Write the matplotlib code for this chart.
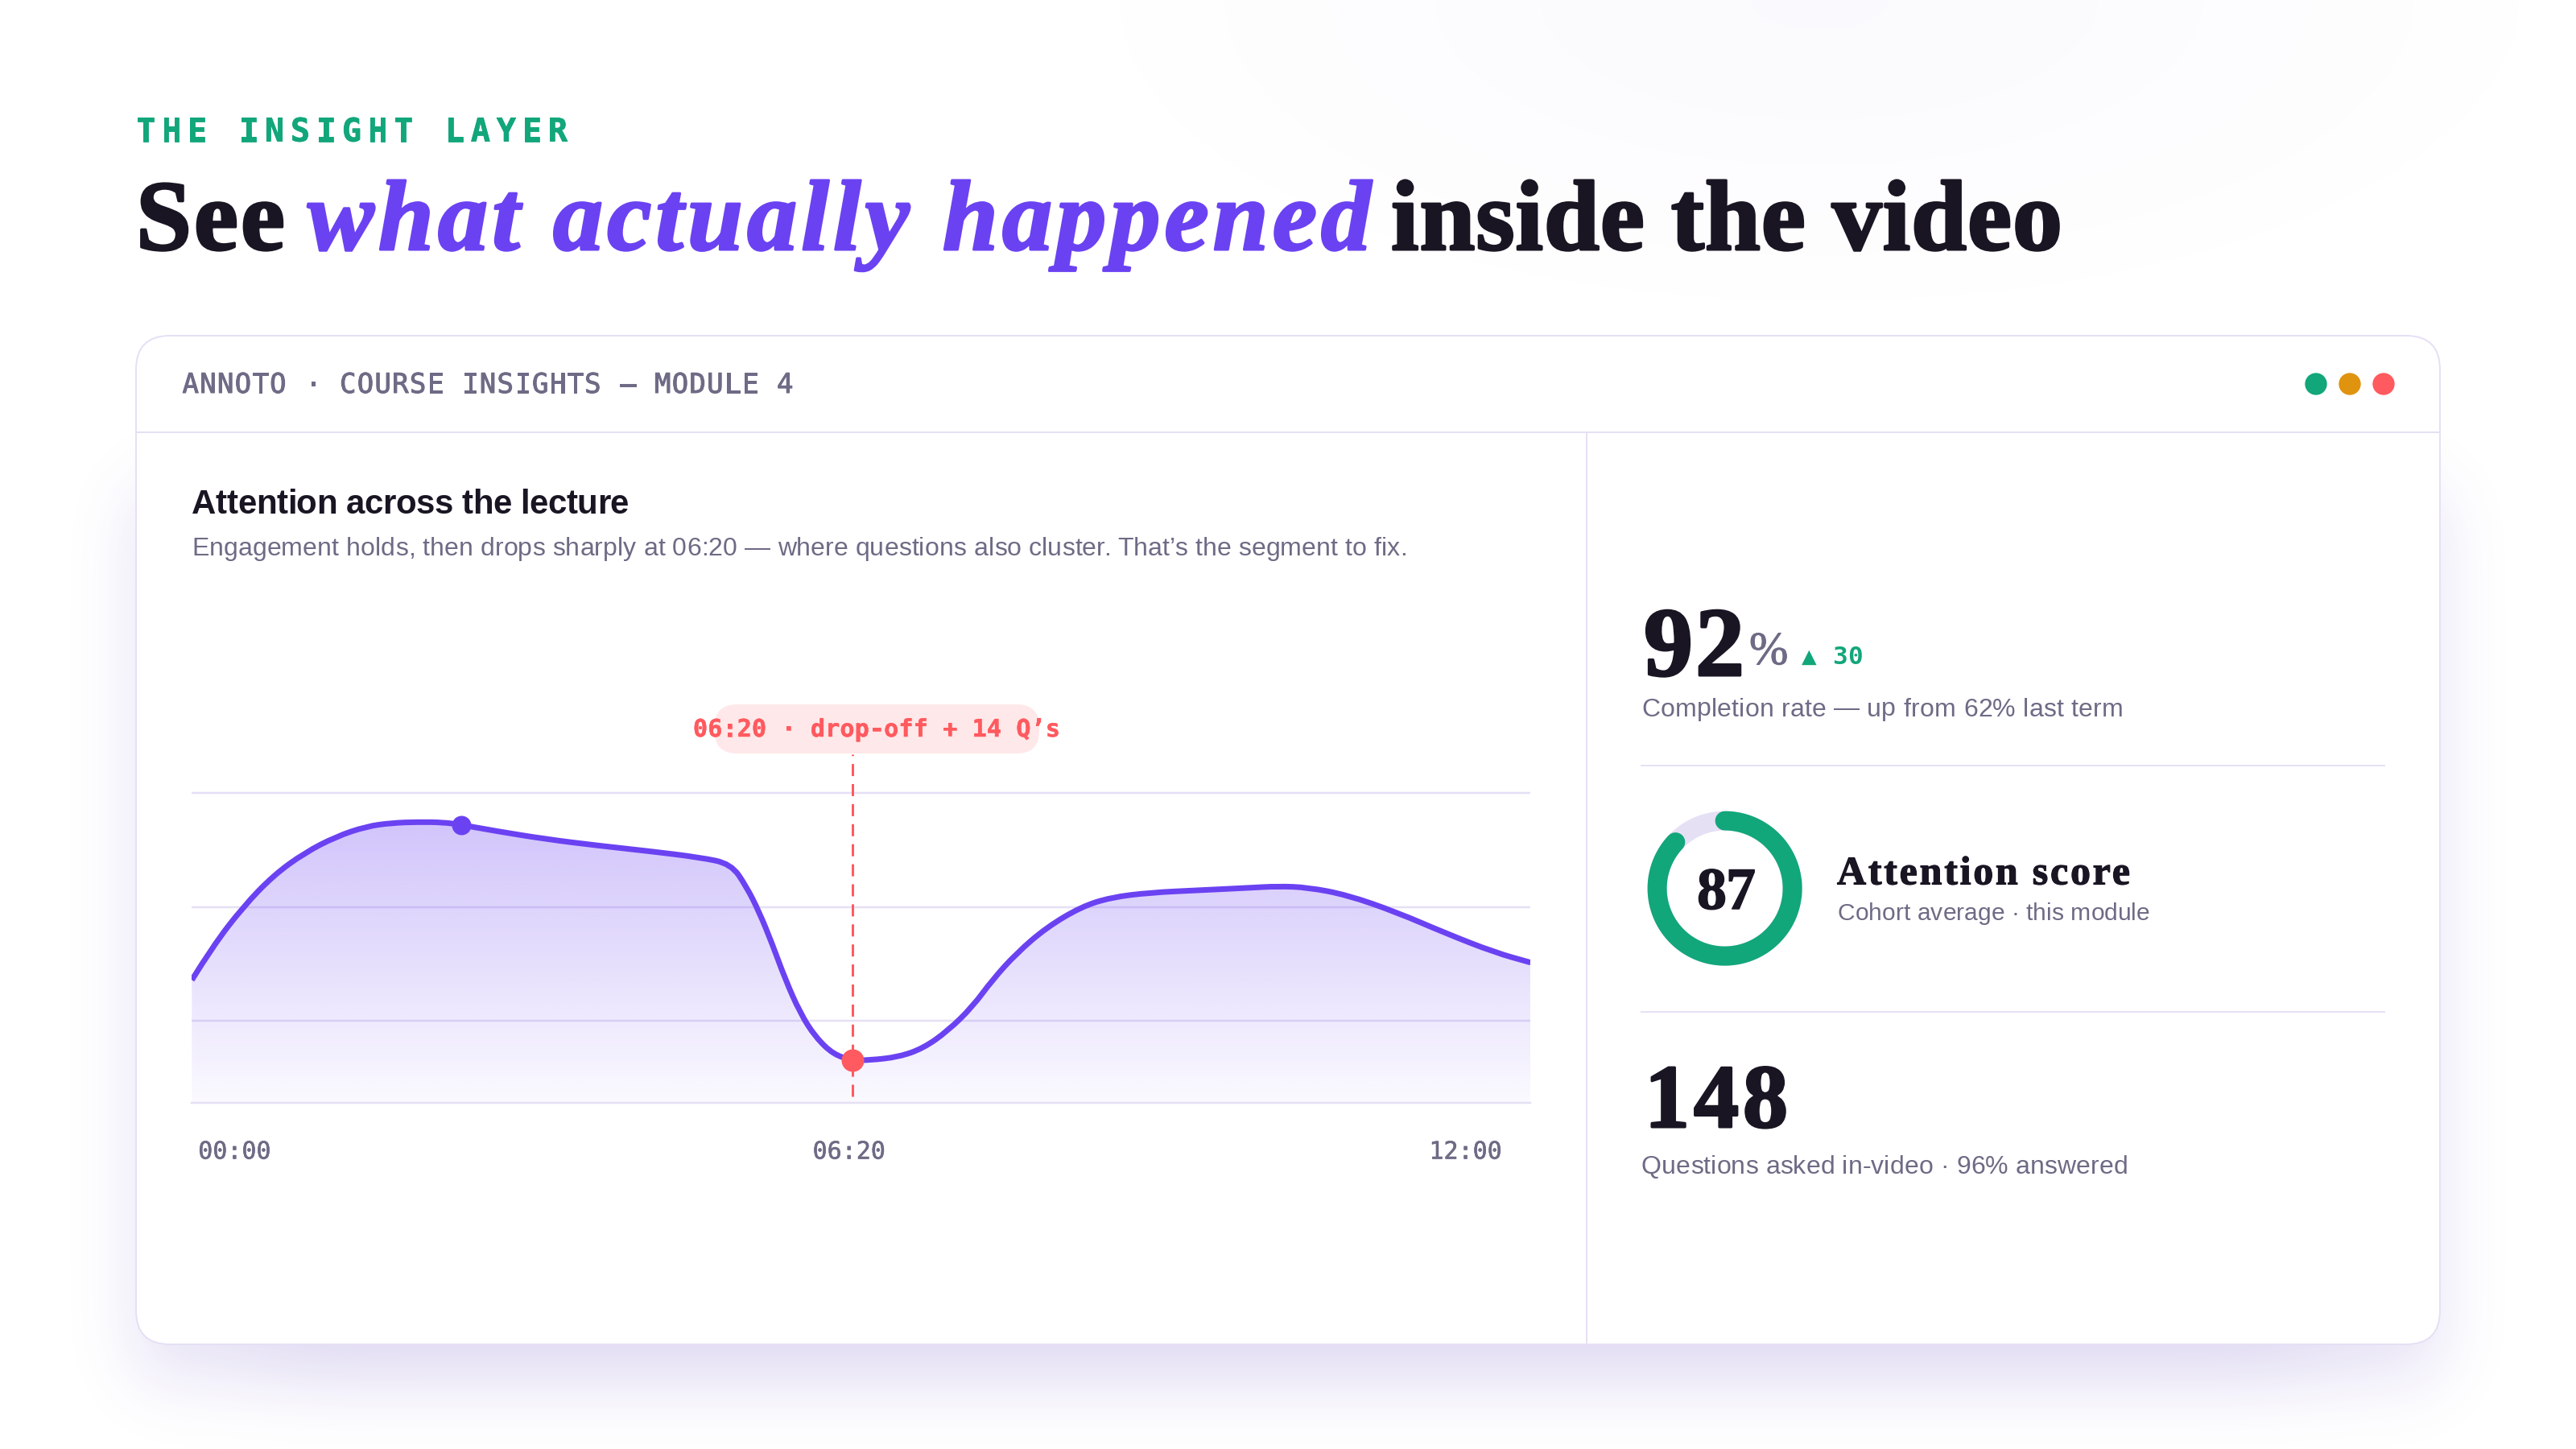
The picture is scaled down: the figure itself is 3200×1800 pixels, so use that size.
import math

import numpy as np
import matplotlib
matplotlib.use("Agg")
import matplotlib.pyplot as plt
from matplotlib.patches import Circle, FancyBboxPatch, PathPatch
from matplotlib.path import Path
from matplotlib.patheffects import withStroke
from matplotlib.text import Text

# ---------------- data ----------------
# position along the lecture (% of plot width) and attention level
progress = [0, 1.55, 3.83, 6.12, 8.44, 10.75, 13.03, 14.96, 16.88, 18.8, 20.13, 22.62,
            26.44, 30.29, 34.14, 37.99, 40.27, 41.41, 42.37, 43.34, 44.3, 45.44, 46.58,
            47.94, 49.35, 50.59, 52.78, 54.64, 56.48, 58.31, 59.79, 61.62, 63.84, 66.43,
            68.65, 71.58, 75.27, 78.93, 81.16, 83.36, 86.31, 90.0, 93.67, 97.33, 100]
attention = [58.97, 66.3, 75.0, 81.96, 86.85, 90.35, 92.62, 93.38, 93.58, 93.5, 92.97, 91.64,
             89.83, 88.43, 87.2, 85.81, 84.41, 79.51, 73.92, 66.98, 59.32, 51.72, 46.48,
             42.63, 41.41, 41.41, 42.11, 44.03, 47.87, 53.12, 58.97, 64.9, 70.48, 75.0,
             77.07, 78.12, 78.64, 79.16, 79.51, 79.25, 77.59, 73.81, 69.2, 65.0, 62.8]
peak_point = (20.13, 92.97)
drop_point = (49.35, 41.41)
grid_levels = [50, 75, 100]
time_positions = [3.2, 49.1, 95.15]
time_labels = ["00:00", "06:20", "12:00"]
attention_score = 87

PURPLE = "#6B42F2"
GREEN = "#12A67B"
ORANGE = "#E0930E"
RED = "#FF5A5F"
INK = "#1A1523"
MUTED = "#6F6A85"
RULE = "#E6E0F5"
SERIF = "Liberation Serif"
SANS = "Liberation Sans"
MONO = "DejaVu Sans Mono"


def px(size):
    # figure is 100 dpi, sizes below are in output pixels
    return size * 0.72


class SpacedText(Text):
    """One text drawn with letter spacing so it runs from x to x_end."""

    def __init__(self, x, y, s, x_end, **kw):
        super().__init__(x, y, s, parse_math=False, **kw)
        self.x_end = x_end

    def draw(self, renderer):
        s = self.get_text()
        x0 = self.get_position()[0]
        fp = self.get_fontproperties()
        width = lambda t: renderer.get_text_width_height_descent(t, fp, False)[0] if t else 0
        track = (self.x_end - x0 - width(s)) / max(len(s) - 1, 1)
        for i, ch in enumerate(s):
            self.set_text(ch)
            self.set_x(x0 + width(s[:i + 1]) - width(ch) + i * track)
            super().draw(renderer)
        self.set_text(s)
        self.set_x(x0)


fig = plt.figure(figsize=(32, 18), dpi=100, facecolor="white")
page = fig.add_axes([0, 0, 1, 1])
page.set_xlim(0, 3200)
page.set_ylim(1800, 0)
page.axis("off")


def label(x, y, s, x_end, size, color=INK, family=SANS, weight="normal", style="normal", heavier=0):
    t = SpacedText(x, y, s, x_end, fontsize=px(size), color=color, family=family,
                   weight=weight, style=style, va="baseline", ha="left", zorder=6)
    if heavier:
        t.set_path_effects([withStroke(linewidth=px(heavier), foreground=color)])
    page.add_artist(t)


# ---------------- page background and card shadow ----------------
xs = np.arange(3200) + 0.5
ys = np.arange(1800) + 0.5


def soft_band(v, lo, hi, sigma):
    erf = np.vectorize(math.erf)
    return 0.5 * (erf((v - lo) / (sigma * 2 ** 0.5)) - erf((v - hi) / (sigma * 2 ** 0.5)))


shade = 0.15 * np.outer(soft_band(ys, 610, 1710, 45), soft_band(xs, 169, 3031, 42))
shade += 0.05 * np.outer(soft_band(ys, 900, 1722, 48), soft_band(xs, 330, 2870, 60))
gx, gy = np.meshgrid(xs, ys)
shade += 0.03 * np.clip(1 - np.hypot((gx - 2260) / 1000, gy / 430), 0, 1)
bg = np.zeros((1800, 3200, 4))
bg[..., :3] = (90 / 255, 60 / 255, 190 / 255)
bg[..., 3] = shade
page.imshow(bg, extent=(0, 3200, 1800, 0), aspect="auto", zorder=0, interpolation="nearest")
page.set_xlim(0, 3200)
page.set_ylim(1800, 0)

# ---------------- card frame ----------------
page.add_patch(FancyBboxPatch((169, 417), 2862, 1253, boxstyle="round,pad=0,rounding_size=42",
                              facecolor="white", edgecolor=RULE, linewidth=px(2), zorder=1))
page.plot([170, 3030], [537, 537], color=RULE, lw=px(2), zorder=2)
page.plot([1971, 1971], [537, 1669], color=RULE, lw=px(2), zorder=2)
page.plot([2039, 2962], [951, 951], color=RULE, lw=px(2), zorder=2)
page.plot([2039, 2962], [1257, 1257], color=RULE, lw=px(2), zorder=2)
for cx, col in zip([2877, 2919, 2961], [GREEN, ORANGE, RED]):
    page.add_patch(Circle((cx, 477), 13, color=col, zorder=2))

# ---------------- headings ----------------
label(169, 175.5, "THE INSIGHT LAYER", 705, 40, GREEN, MONO, "bold", heavier=0.8)
label(169, 310, "See", 354, 124, INK, SERIF, "bold", heavier=3)
label(382, 310, "what actually happened", 1703, 124, PURPLE, SERIF, "bold", "italic", heavier=3)
label(1728, 310, "inside the video", 2562, 124, INK, SERIF, "bold", heavier=3)
label(226.5, 488, "ANNOTO · COURSE INSIGHTS — MODULE 4", 985.5, 34, MUTED, MONO, heavier=1)
label(238, 638.5, "Attention across the lecture", 781, 42, INK, SANS, "bold")
label(238, 690, "Engagement holds, then drops sharply at 06:20 — where questions also cluster. "
      "That’s the segment to fix.", 1748, 32, MUTED)

# ---------------- attention chart ----------------
scale = 25 / 141.8  # attention units per pixel, from the grid spacing
chart_top, chart_bottom = 880, 1369.5
chart = fig.add_axes([238.3 / 3200, 1 - chart_bottom / 1800, 1663.1 / 3200,
                      (chart_bottom - chart_top) / 1800])
chart.patch.set_visible(False)
y_low = 100 - (chart_bottom - 984.7) * scale
y_high = 100 + (984.7 - chart_top) * scale

# quadratic segments between the read points keep the curve smooth
points = list(zip(progress, attention))
curve_verts = [points[0]]
curve_codes = [Path.MOVETO]
for p, q in zip(points[1:-1], points[2:]):
    curve_verts += [p, ((p[0] + q[0]) / 2, (p[1] + q[1]) / 2)]
    curve_codes += [Path.CURVE3, Path.CURVE3]
curve_verts.append(points[-1])
curve_codes.append(Path.LINETO)
curve = Path(curve_verts, curve_codes)
area = Path(curve_verts + [(100, y_low), (0, y_low), (0, y_low)],
            curve_codes + [Path.LINETO, Path.LINETO, Path.CLOSEPOLY])

fill_rows = np.zeros((256, 2, 4))
fill_rows[..., :3] = matplotlib.colors.to_rgb(PURPLE)
fill_rows[..., 3] = np.linspace(0.31, 0.03, 256)[:, None]
fill = chart.imshow(fill_rows, extent=(0, 100, y_low, max(attention)), aspect="auto", zorder=2)
fill.set_clip_path(area, transform=chart.transData)

chart.add_patch(PathPatch(curve, fill=False, edgecolor=PURPLE, lw=px(7), capstyle="butt",
                          joinstyle="round", zorder=3))
chart.plot([drop_point[0]] * 2, [y_low + 1.3, y_high - 10], color=RED, lw=px(3),
           linestyle=(0, (5, 3.3)), zorder=4)
chart.plot(*peak_point, "o", color=PURPLE, markersize=px(24), markeredgewidth=0, zorder=5)
chart.plot(*drop_point, "o", color=RED, markersize=px(28), markeredgewidth=0, zorder=5)

chart.set_xlim(0, 100)
chart.set_ylim(y_low, y_high)
chart.set_yticks(grid_levels)
chart.yaxis.grid(True, color=RULE, lw=px(2.5))
chart.set_axisbelow(True)
chart.tick_params(axis="y", length=0, labelleft=False)
chart.set_xticks(time_positions)
chart.set_xticklabels(time_labels, family=MONO, fontsize=px(30), color=MUTED,
                      path_effects=[withStroke(linewidth=px(0.6), foreground=MUTED)])
chart.tick_params(axis="x", length=0, pad=px(47))
for side in ["top", "left", "right"]:
    chart.spines[side].set_visible(False)
chart.spines["bottom"].set_color(RULE)
chart.spines["bottom"].set_linewidth(px(2.5))

page.add_patch(FancyBboxPatch((887.5, 875), 403.5, 61, boxstyle="round,pad=0,rounding_size=28",
                              facecolor="#FFE8E9", edgecolor="none", zorder=3))
label(861, 915, "06:20 · drop-off + 14 Q’s", 1317, 30, RED, MONO, "bold", heavier=0.5)

# ---------------- right column ----------------
label(2042, 839, "92", 2167, 122, INK, SERIF, "bold", heavier=3)
label(2173, 825, "%", 2213, 58, MUTED, SERIF, heavier=1)
label(2238, 825, "▲ 30", 2314, 31, GREEN, MONO, "bold")
label(2039, 889.5, "Completion rate — up from 62% last term", 2637.5, 32, MUTED)

ring_x, ring_y, ring_r = 2142.6, 1103.6, 84
turn = np.linspace(0, 2 * np.pi, 361)
page.plot(ring_x + ring_r * np.cos(turn), ring_y + ring_r * np.sin(turn), color=RULE,
          lw=px(24), zorder=2)
sweep = np.linspace(0, 2 * np.pi * attention_score / 100, 361)
page.plot(ring_x + ring_r * np.sin(sweep), ring_y - ring_r * np.cos(sweep), color=GREEN,
          lw=px(24), solid_capstyle="round", zorder=3)
label(2108, 1129, str(attention_score), 2181, 74, INK, SERIF, "bold", heavier=1.5)
label(2282, 1098.5, "Attention score", 2646, 50, INK, SERIF, "bold", heavier=1.2)
label(2283, 1143, "Cohort average · this module", 2670.7, 30, MUTED)

label(2043, 1400, "148", 2221, 112, INK, SERIF, "bold", heavier=3)
label(2039, 1458, "Questions asked in-video · 96% answered", 2643, 32, MUTED)

fig.savefig("out.png", dpi=100)
